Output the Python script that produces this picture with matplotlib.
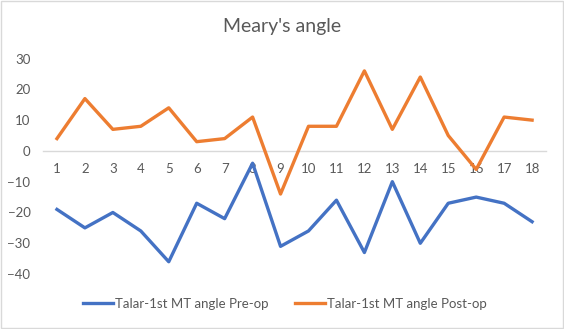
import numpy as np
import matplotlib.pyplot as plt
from matplotlib.patches import Rectangle

plt.rcParams['font.family'] = ['Lato', 'DejaVu Sans']

# patient number and the two angle series (degrees)
cases = list(range(1, 19))
pre_op = [-19, -25, -20, -26, -36, -17, -22, -4, -31, -26, -16, -33, -10, -30, -17, -15, -17, -23]
post_op = [4, 17, 7, 8, 14, 3, 4, 11, -14, 8, 8, 26, 7, 24, 5, -6, 11, 10]
yticks = [-40, -30, -20, -10, 0, 10, 20, 30]

grey = '#595959'
fig = plt.figure(figsize=(5.64, 3.29), dpi=100)
ax = fig.add_axes([0.0762, 0.167, 0.892, 0.655])

x = np.arange(len(cases))
ax.plot(x, pre_op, color='#4472C4', lw=2.4, solid_joinstyle='round',
        label='Talar-1st MT angle Pre-op')
ax.plot(x, post_op, color='#ED7D31', lw=2.4, solid_joinstyle='round',
        label='Talar-1st MT angle Post-op')

ax.set_xlim(-0.5, len(cases) - 0.5)
ax.set_ylim(-40, 30)
ax.set_yticks(yticks)
ax.set_xticks(x)
ax.set_xticklabels([str(c) for c in cases])

for s in ['top', 'right', 'left']:
    ax.spines[s].set_visible(False)
ax.spines['bottom'].set_position(('data', 0))
ax.spines['bottom'].set_color('#d9d9d9')
ax.spines['bottom'].set_linewidth(1.0)
ax.spines['bottom'].set_zorder(0)

ax.tick_params(axis='both', length=0, labelsize=9.5, labelcolor=grey)
ax.tick_params(axis='x', pad=9)
ax.tick_params(axis='y', pad=9)

fig.text(0.5, 0.918, "Meary's angle", ha='center', va='center',
         fontsize=14, color=grey)

leg = fig.legend(loc='center', bbox_to_anchor=(0.505, 0.076), ncol=2,
                 frameon=False, fontsize=9.5, handlelength=2.3,
                 handletextpad=0.15, columnspacing=2.0)
for t in leg.get_texts():
    t.set_color(grey)

fig.patches.append(Rectangle((0.002, 0.003), 0.996, 0.994, transform=fig.transFigure,
                             fill=False, edgecolor='#d9d9d9', lw=1.0))

fig.savefig('out.png', dpi=100)
